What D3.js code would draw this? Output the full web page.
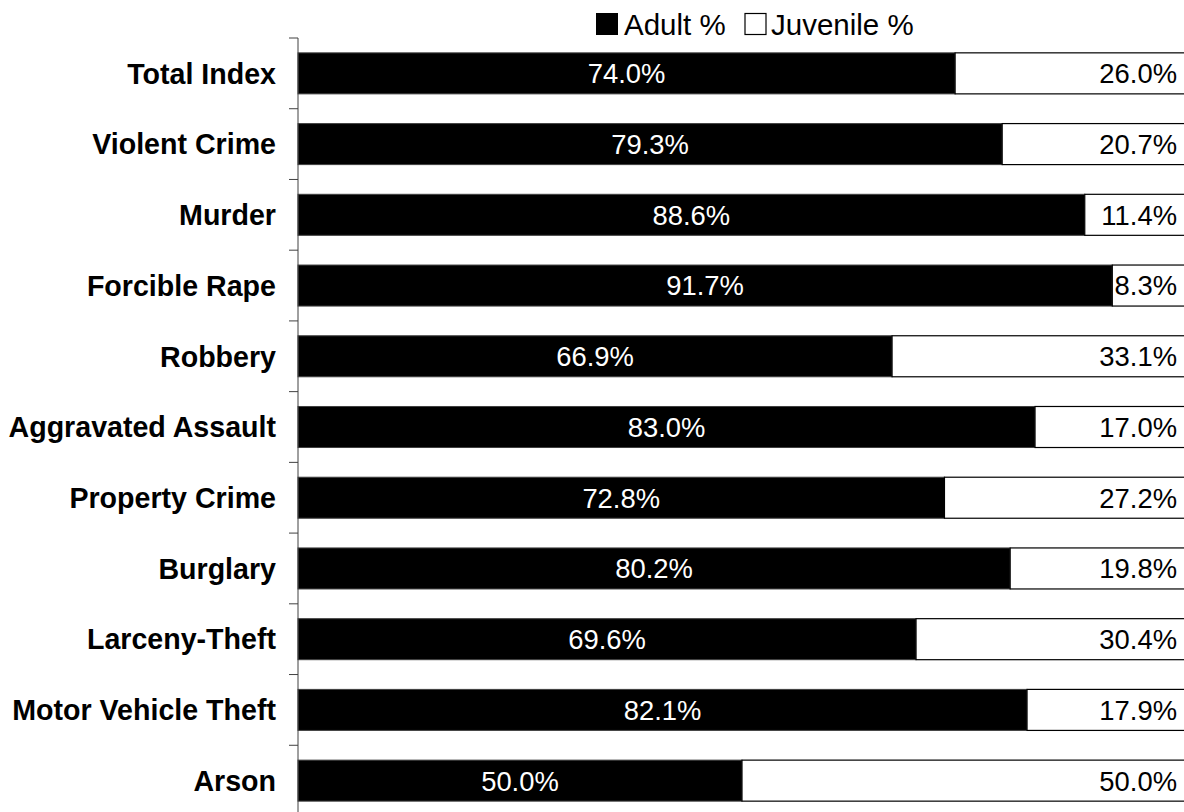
<!DOCTYPE html>
<html><head><meta charset="utf-8">
<script src="https://cdn.jsdelivr.net/npm/d3@7"></script>
<style>html,body{margin:0;padding:0;background:#fff;}svg{display:block;font-family:"Liberation Sans",Arial,sans-serif;}</style>
</head><body>
<svg id="chart" width="1184" height="812"></svg>
<script>
const categories = ["Total Index","Violent Crime","Murder","Forcible Rape","Robbery","Aggravated Assault","Property Crime","Burglary","Larceny-Theft","Motor Vehicle Theft","Arson"];
const adultPct = [74.0,79.3,88.6,91.7,66.9,83.0,72.8,80.2,69.6,82.1,50.0];
const juvenilePct = [26.0,20.7,11.4,8.3,33.1,17.0,27.2,19.8,30.4,17.9,50.0];
const seriesNames = ["Adult %","Juvenile %"];

const svg = d3.select("#chart");
const x0 = 298, x1 = 1186, yTop = 38, yBot = 816;
const x = d3.scaleLinear().domain([0,100]).range([x0,x1]);
const y = d3.scaleBand().domain(categories).range([yTop,yBot]).paddingInner(0.42).paddingOuter(0.21);
const fsVal = 27.4, fsCat = 28.6, fsLeg = 29.5;

const g = svg.append("g");
categories.forEach((c,i)=>{
  const a = adultPct[i], j = juvenilePct[i];
  g.append("rect").attr("x",x(0)).attr("y",y(c)).attr("width",x(a)-x(0)).attr("height",y.bandwidth())
    .attr("fill","#000").attr("stroke","#404040").attr("stroke-width",1);
  g.append("rect").attr("x",x(a)).attr("y",y(c)).attr("width",x(a+j)-x(a)).attr("height",y.bandwidth())
    .attr("fill","#fff").attr("stroke","#000").attr("stroke-width",1.2);
  const cy = y(c)+y.bandwidth()/2;
  g.append("text").attr("x",(x(0)+x(a))/2).attr("y",cy).attr("dy","0.36em").attr("text-anchor","middle")
    .attr("fill","#fff").style("font-size",fsVal+"px").text(a.toFixed(1)+"%");
  g.append("text").attr("x",x(100)-9).attr("y",cy).attr("dy","0.36em").attr("text-anchor","end")
    .attr("fill","#000").style("font-size",fsVal+"px").text(j.toFixed(1)+"%");
});

// axis with ticks at band boundaries
const axisG = svg.append("g");
axisG.append("line").attr("x1",x0).attr("x2",x0).attr("y1",yTop).attr("y2",yBot).attr("stroke","#404040").attr("stroke-width",1);
d3.range(categories.length+1).forEach(k=>{
  const ty = yTop + k*(yBot-yTop)/categories.length;
  axisG.append("line").attr("x1",x0-9).attr("x2",x0).attr("y1",ty).attr("y2",ty).attr("stroke","#404040").attr("stroke-width",1);
});
categories.forEach(c=>{
  axisG.append("text").attr("x",276).attr("y",y(c)+y.bandwidth()/2).attr("dy","0.36em").attr("text-anchor","end")
    .style("font-size",fsCat+"px").style("font-weight","bold").text(c);
});

// legend
const lg = svg.append("g");
lg.append("rect").attr("x",596).attr("y",13).attr("width",22).attr("height",22).attr("fill","#000");
lg.append("text").attr("x",624).attr("y",24).attr("dy","0.36em").style("font-size",fsLeg+"px").text(seriesNames[0]);
lg.append("rect").attr("x",745).attr("y",13.5).attr("width",21).attr("height",21).attr("fill","#fff").attr("stroke","#000").attr("stroke-width",1.2);
lg.append("text").attr("x",771).attr("y",24).attr("dy","0.36em").style("font-size",fsLeg+"px").text(seriesNames[1]);
</script>
</body></html>
